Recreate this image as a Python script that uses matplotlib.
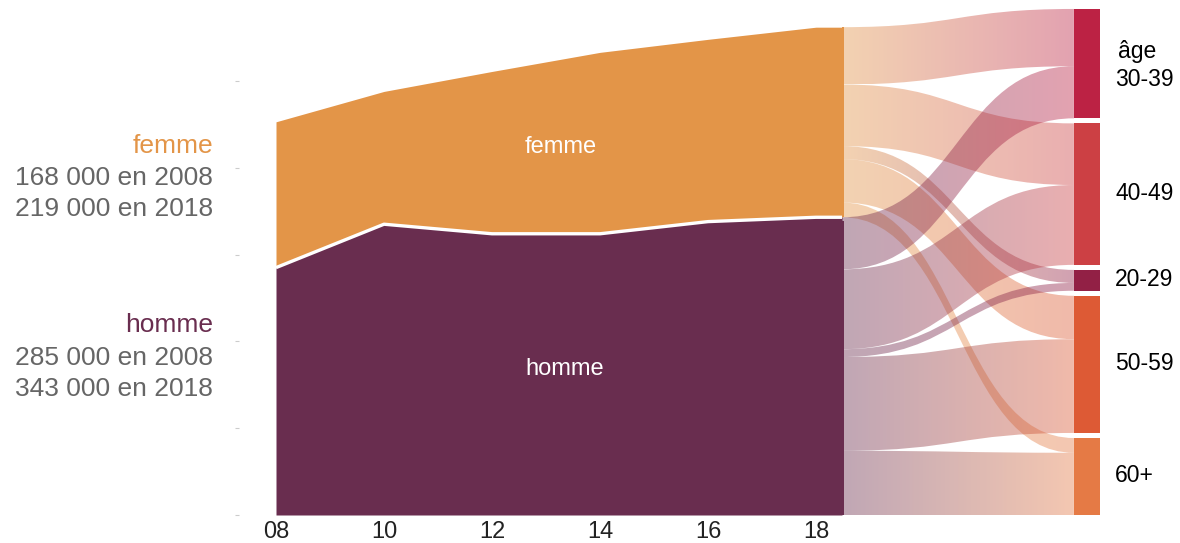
import numpy as np
import matplotlib
matplotlib.use("Agg")
import matplotlib.pyplot as plt
from matplotlib.path import Path
from matplotlib.patches import PathPatch, Rectangle
from matplotlib.colors import to_rgba

plt.rcParams["font.family"] = ["Liberation Sans", "DejaVu Sans"]

# stacked area, thousands of people
years = [2008, 2010, 2012, 2014, 2016, 2018]
homme = [285, 335, 324, 324, 338, 343]
femme = [168, 153, 187, 209, 210, 219]

# flows 2018 -> age groups (thousands)
ages = ["30-39", "40-49", "20-29", "50-59", "60+"]
flow_femme = [66, 71, 15, 50, 17]
flow_homme = [60, 92, 9, 108, 74]

C_FEMME, C_HOMME = "#E39548", "#692D4F"
AGE_COLORS = ["#BC2244", "#CC4044", "#922045", "#DD5A35", "#E57A45"]
GRAY = "#666666"

W, H = 1180, 543
fig = plt.figure(figsize=(W / 100, H / 100), dpi=100)
fig.patch.set_facecolor("white")

def fx(px): return px / W
def fy(py): return 1 - py / H

YMAX = 515 / 0.868  # axes top in thousands

# ---- stacked area ----
ax = fig.add_axes([fx(237), fy(515), fx(842) - fx(237), 515 / H])
ax.set_xlim(2008 - 39 / 54, 2018 + 26 / 54)
ax.set_ylim(0, YMAX)
xs = years + [ax.get_xlim()[1]]
h = np.array(homme + homme[-1:])
tot = h + np.array(femme + femme[-1:])
ax.fill_between(xs, 0, h, color=C_HOMME, lw=0)
ax.fill_between(xs, h, tot, color=C_FEMME, lw=0)
ax.plot(xs, h, color="white", lw=2.4, solid_capstyle="butt")
ax.set_xticks(years)
ax.set_xticklabels([f"{y % 100:02d}" for y in years], fontsize=17, color="#222222")
ax.set_yticks(np.arange(0, 600, 100))
ax.set_yticklabels([])
ax.tick_params(axis="x", length=0, pad=4.5)
ax.tick_params(axis="y", length=3, direction="inout", color="#cccccc", width=0.8)
for s in ax.spines.values():
    s.set_visible(False)

# ---- sankey ----
axs = fig.add_axes([fx(842), fy(515), fx(1100) - fx(842), 515 / H])
axs.set_xlim(0, 1)
axs.set_ylim(0, YMAX)
axs.axis("off")
NODE_X0 = 0.899
ALPHA = 0.42

def draw_flow(s_top, s_bot, t_top, t_bot, c0, c1):
    x0, x1 = 0.0, NODE_X0
    xm = (x0 + x1) / 2
    verts = [(x0, s_top), (xm, s_top), (xm, t_top), (x1, t_top),
             (x1, t_bot), (xm, t_bot), (xm, s_bot), (x0, s_bot), (x0, s_top)]
    codes = [Path.MOVETO, Path.CURVE4, Path.CURVE4, Path.CURVE4,
             Path.LINETO, Path.CURVE4, Path.CURVE4, Path.CURVE4, Path.CLOSEPOLY]
    patch = PathPatch(Path(verts, codes), facecolor="none", edgecolor="none")
    axs.add_patch(patch)
    t = np.linspace(0, 1, 256)[:, None]
    a, b = np.array(to_rgba(c0, ALPHA)), np.array(to_rgba(c1, ALPHA))
    grad = ((1 - t) * a + t * b)[None, :, :]
    lo, hi = min(s_bot, t_bot), max(s_top, t_top)
    im = axs.imshow(grad, extent=(x0, x1, lo, hi), aspect="auto",
                    origin="lower", interpolation="bilinear", zorder=1)
    im.set_clip_path(patch)

# target node layout
totals = [f + m for f, m in zip(flow_femme, flow_homme)]
top, bottom = 583.0, -2.3
gap = (top - bottom - sum(totals)) / (len(totals) - 1)
node_top = []
y = top
for v in totals:
    node_top.append(y)
    y -= v + gap

# source stacks
src_f = sum(flow_femme) + sum(flow_homme)
src_m = sum(flow_homme)
in_off = [0.0] * len(ages)
for flows, start, col in [(flow_femme, src_f, C_FEMME), (flow_homme, src_m, C_HOMME)]:
    y = start
    for i, v in enumerate(flows):
        tt = node_top[i] - in_off[i]
        draw_flow(y, y - v, tt, tt - v, col, AGE_COLORS[i])
        in_off[i] += v
        y -= v

axs.add_patch(Rectangle((0, src_m), 0.008, sum(flow_femme), color=C_FEMME, lw=0, zorder=2))
axs.add_patch(Rectangle((0, 0), 0.008, src_m - 4, color=C_HOMME, lw=0, zorder=2))
for i, v in enumerate(totals):
    axs.add_patch(Rectangle((NODE_X0, node_top[i] - v), 1 - NODE_X0, v,
                            color=AGE_COLORS[i], lw=0, zorder=3))

# ---- labels ----
fs_big = 19
fig.text(fx(213), fy(153), "femme", color=C_FEMME, ha="right", fontsize=fs_big)
fig.text(fx(213), fy(185), "168 000 en 2008", color=GRAY, ha="right", fontsize=fs_big)
fig.text(fx(213), fy(216.5), "219 000 en 2018", color=GRAY, ha="right", fontsize=fs_big)
fig.text(fx(213), fy(332.5), "homme", color=C_HOMME, ha="right", fontsize=fs_big)
fig.text(fx(213), fy(365), "285 000 en 2008", color=GRAY, ha="right", fontsize=fs_big)
fig.text(fx(213), fy(396.5), "343 000 en 2018", color=GRAY, ha="right", fontsize=fs_big)

fig.text(fx(561), fy(153), "femme", color="white", ha="center", fontsize=17)
fig.text(fx(565), fy(375), "homme", color="white", ha="center", fontsize=17)

fs_r = 16.5
fig.text(fx(1118), fy(58), "âge", color="black", fontsize=fs_r)
for lab, yb in zip(ages, [86.5, 200, 286.5, 370, 481.5]):
    fig.text(fx(1115), fy(yb), lab, color="black", fontsize=fs_r)

fig.savefig("out.png", dpi=100, facecolor="white")
